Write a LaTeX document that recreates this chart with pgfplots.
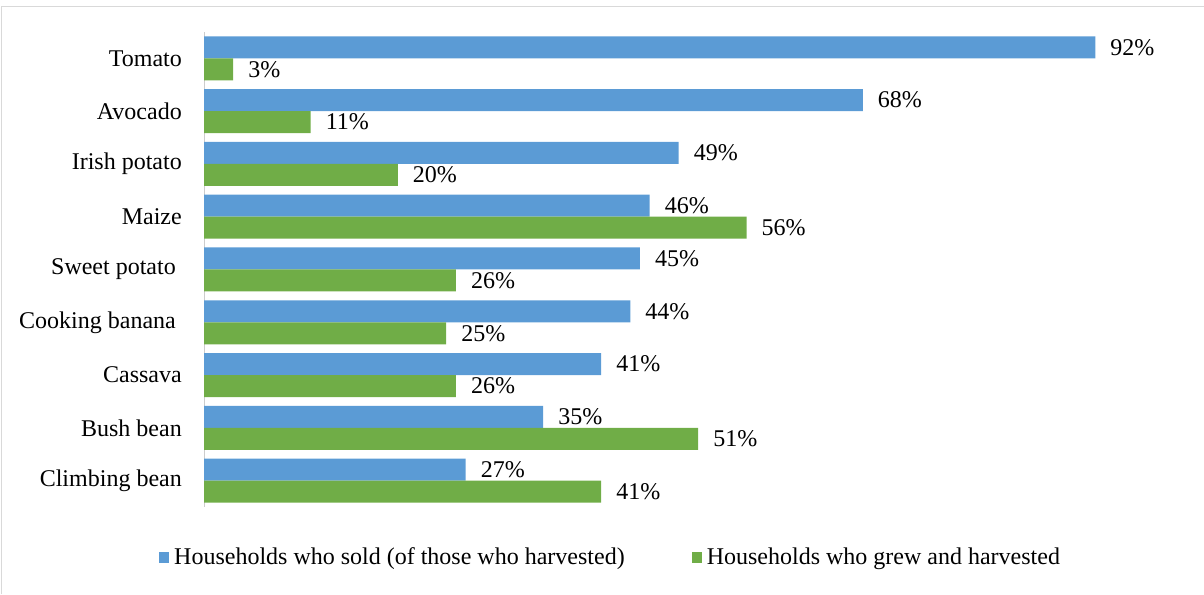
\documentclass[border=0pt]{standalone}
\usepackage{pgfplots}
\pgfplotsset{compat=1.18}
\usepackage{fontspec}
\setmainfont{Liberation Serif}
\definecolor{cblue}{HTML}{5B9BD5}
\definecolor{cgreen}{HTML}{70AD47}
\begin{document}
\fontsize{24}{28}\selectfont
\begin{tikzpicture}
\useasboundingbox (0pt,0pt) rectangle (1204pt,594pt);
\draw[black!15, line width=1.5pt] (1.5pt,0pt) -- (1.5pt,587.5pt) -- (1204pt,587.5pt);
\begin{axis}[
  at={(204pt,87pt)}, anchor=south west,
  scale only axis, width=993pt, height=475pt,
  xmin=0, xmax=102.5, ymin=-0.5, ymax=8.5,
  xbar, bar width=22pt,
  axis x line=none,
  axis y line*=left,
  y axis line style={black!20, line width=0.8pt, -},
  major tick length=0pt,
  ytick={0,1,2,3,4,5,6,7,8},
  yticklabels={Climbing bean, Bush bean, Cassava, Cooking banana\hspace*{6pt}, Sweet potato\hspace*{6pt}, Maize, Irish potato, Avocado, Tomato},
  yticklabel style={inner sep=0pt, xshift=-22pt, font=\fontsize{24}{28}\selectfont},
  /pgf/number format/assume math mode=true,
  nodes near coords={\pgfmathprintnumber{\pgfplotspointmeta}\%},
  nodes near coords style={anchor=west, inner sep=0pt, xshift=15pt, font=\fontsize{24}{28}\selectfont, black},
  legend style={at={(0.411,-0.108)}, anchor=center, draw=none, fill=none,
    legend columns=2, font=\fontsize{24}{28}\selectfont,
    /tikz/every even column/.append style={column sep=62pt},
    legend cell align=left, inner sep=0pt,
    nodes={inner xsep=5pt}},
  legend image code/.code={\fill[#1] (0pt,-5pt) rectangle (10pt,6pt);},
]
\addplot[fill=cblue, draw=none, bar shift=11pt] coordinates {
  (27,0) (35,1) (41,2) (44,3) (45,4) (46,5) (49,6) (68,7) (92,8)};
\addlegendentry{Households who sold (of those who harvested)}
\addplot[fill=cgreen, draw=none, bar shift=-11pt] coordinates {
  (41,0) (51,1) (26,2) (25,3) (26,4) (56,5) (20,6) (11,7) (3,8)};
\addlegendentry{Households who grew and harvested}
\end{axis}
\end{tikzpicture}
\end{document}
